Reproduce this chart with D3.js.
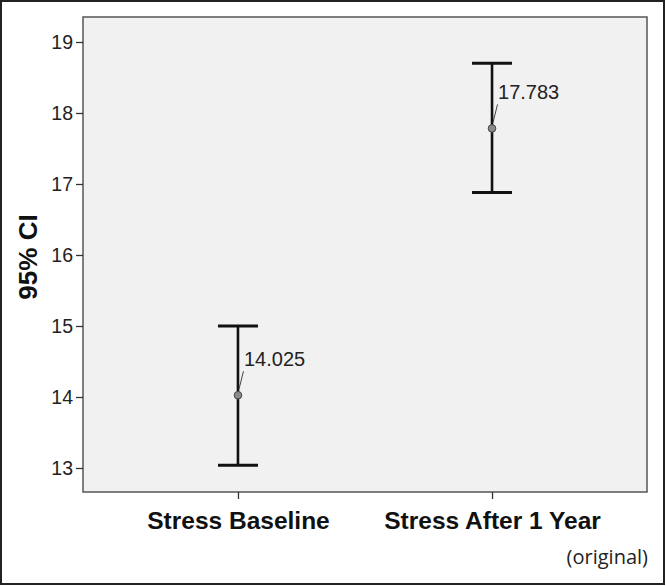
<!DOCTYPE html>
<html>
<head>
<meta charset="utf-8">
<script src="https://cdn.jsdelivr.net/npm/d3@7"></script>
<style>
  html, body { margin: 0; padding: 0; background: #fff; }
  svg { display: block; }
</style>
</head>
<body>
<svg id="chart" width="666" height="586"></svg>
<script>
const categories = ["Stress Baseline", "Stress After 1 Year"];
const means = [14.025, 17.783];
const lowerCI = [13.04, 16.88];
const upperCI = [15.0, 18.70];
const meanLabels = ["14.025", "17.783"];
const yTicks = [13, 14, 15, 16, 17, 18, 19];
const yTitle = "95% CI";
const note = "(original)";

const W = 666, H = 586;
const plot = { left: 83, top: 17, right: 647, bottom: 492 };

const svg = d3.select("#chart");

// outer frame
svg.append("rect")
  .attr("x", 1).attr("y", 1).attr("width", W - 3).attr("height", H - 3)
  .attr("fill", "#fff").attr("stroke", "#222").attr("stroke-width", 2);

const x = d3.scalePoint().domain(categories)
  .range([plot.left, plot.right]).padding(0.61);
const y = d3.scaleLinear().domain([12.662, 19.352])
  .range([plot.bottom, plot.top]);

// plot background
svg.append("rect")
  .attr("x", plot.left).attr("y", plot.top)
  .attr("width", plot.right - plot.left).attr("height", plot.bottom - plot.top)
  .attr("fill", "#f1f1f1").attr("stroke", "#555").attr("stroke-width", 1.5);

// y axis
const yAxis = svg.append("g")
  .attr("transform", `translate(${plot.left},0)`)
  .call(d3.axisLeft(y).tickValues(yTicks).tickFormat(d3.format("d")).tickSize(7).tickPadding(3));
yAxis.select(".domain").remove();
yAxis.selectAll(".tick line").attr("stroke", "#333").attr("stroke-width", 1.3);
yAxis.selectAll(".tick text")
  .attr("font-family", "Liberation Sans, Arial, sans-serif")
  .attr("font-size", 19.5).attr("fill", "#222");

// x axis
const xAxis = svg.append("g")
  .attr("transform", `translate(0,${plot.bottom})`)
  .call(d3.axisBottom(x).tickSize(7).tickPadding(13));
xAxis.select(".domain").remove();
xAxis.selectAll(".tick line").attr("stroke", "#333").attr("stroke-width", 1.3);
xAxis.selectAll(".tick text")
  .attr("font-family", "Liberation Sans, Arial, sans-serif")
  .attr("font-weight", "bold")
  .attr("font-size", 24.5).attr("fill", "#111")
  .attr("dy", "0.71em");

// y title
svg.append("text")
  .attr("transform", `translate(37,257) rotate(-90)`)
  .attr("text-anchor", "middle")
  .attr("font-family", "Liberation Sans, Arial, sans-serif")
  .attr("font-weight", "bold")
  .attr("font-size", 26).attr("fill", "#111")
  .text(yTitle);

// error bars
const capHalf = 20;
const g = svg.append("g");
categories.forEach((c, i) => {
  const cx = x(c);
  g.append("line")
    .attr("x1", cx).attr("x2", cx)
    .attr("y1", y(upperCI[i])).attr("y2", y(lowerCI[i]))
    .attr("stroke", "#111").attr("stroke-width", 2.6);
  [upperCI[i], lowerCI[i]].forEach(v => {
    g.append("line")
      .attr("x1", cx - capHalf).attr("x2", cx + capHalf)
      .attr("y1", y(v)).attr("y2", y(v))
      .attr("stroke", "#111").attr("stroke-width", 3);
  });
  const cy = y(means[i]);
  g.append("line")
    .attr("x1", cx + 1).attr("y1", cy - 6)
    .attr("x2", cx + 5.5).attr("y2", cy - 24)
    .attr("stroke", "#444").attr("stroke-width", 1);
  g.append("circle")
    .attr("cx", cx).attr("cy", cy).attr("r", 3.8)
    .attr("fill", "#8a8a8a").attr("stroke", "#444").attr("stroke-width", 1);
  g.append("text")
    .attr("x", cx + 6).attr("y", cy - 29)
    .attr("font-family", "Liberation Sans, Arial, sans-serif")
    .attr("font-size", 20).attr("fill", "#222")
    .text(meanLabels[i]);
});

// note
svg.append("text")
  .attr("x", 648).attr("y", 564)
  .attr("text-anchor", "end")
  .attr("font-family", "Open Sans, DejaVu Sans, sans-serif")
  .attr("font-size", 20).attr("fill", "#222")
  .text(note);
</script>
</body>
</html>
